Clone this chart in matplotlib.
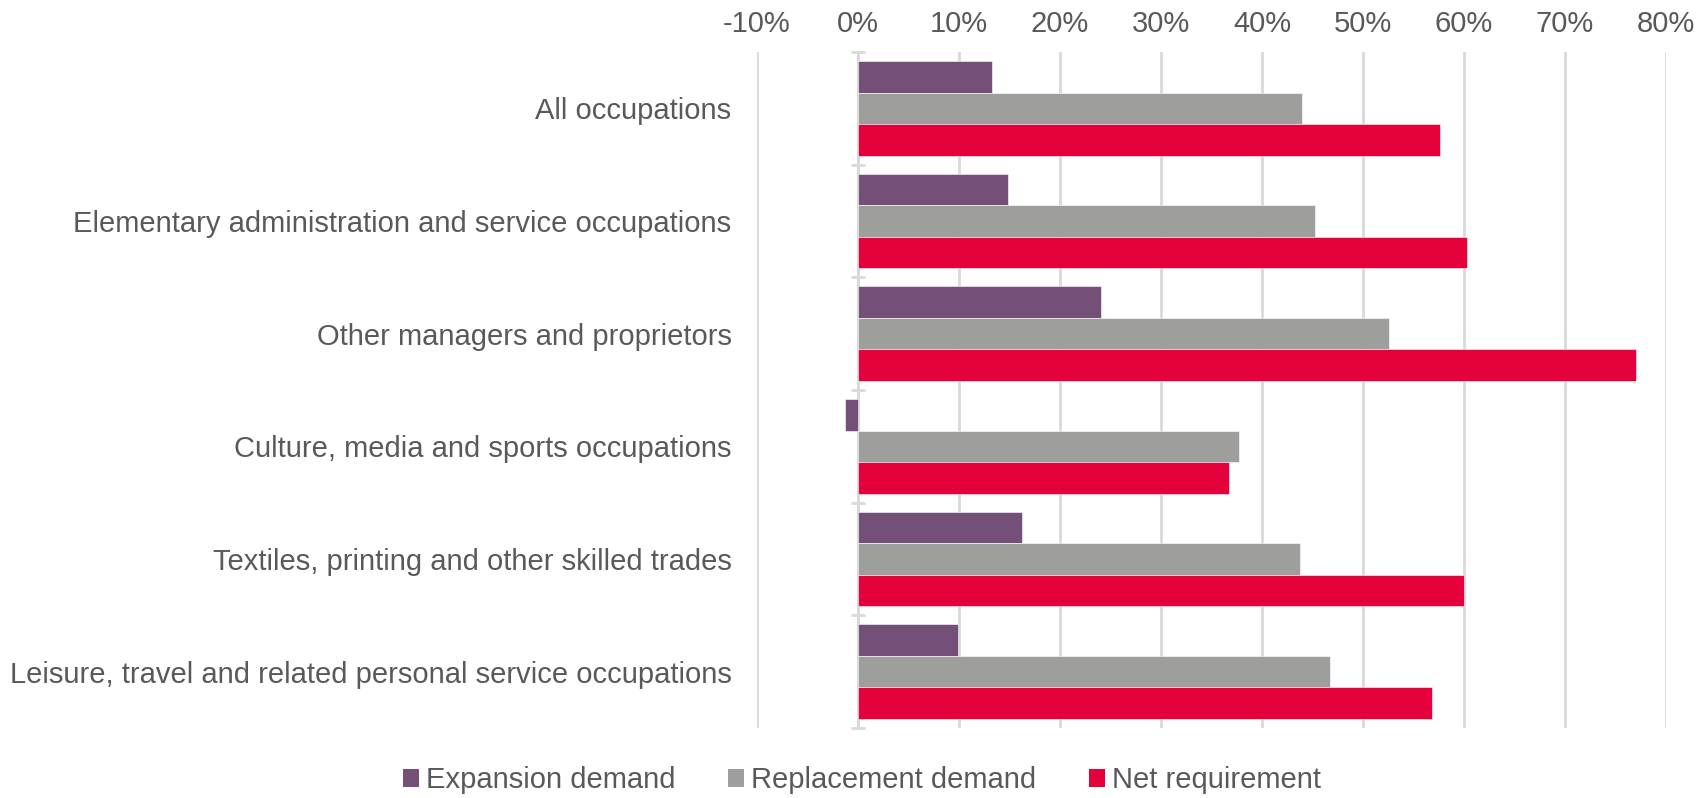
import numpy as np
import matplotlib.pyplot as plt
from matplotlib.patches import Patch
from matplotlib.ticker import FixedLocator, PercentFormatter

# ==========================
# DATA
# ==========================

occupations = [
    "All occupations",
    "Elementary administration and service occupations",
    "Other managers and proprietors",
    "Culture, media and sports occupations",
    "Textiles, printing and other skilled trades",
    "Leisure, travel and related personal service occupations",
]

expansion = [13.3, 14.9, 24.1, -1.3, 16.2, 9.9]
replacement = [44.0, 45.2, 52.6, 37.7, 43.8, 46.7]
net_requirement = [57.6, 60.3, 77.0, 36.7, 60.0, 56.8]

series_names = ["Expansion demand", "Replacement demand", "Net requirement"]
series_colors = ["#745078", "#9e9e9c", "#e4003b"]

# ==========================
# STYLE
# ==========================

plt.rcParams["font.family"] = ["Liberation Sans", "DejaVu Sans"]
plt.rcParams["axes.unicode_minus"] = False
text_color = "#595959"
grid_color = "#d9d9d9"
font_size = 21

fig = plt.figure(figsize=(16.98, 7.98), dpi=100)
ax = fig.add_axes([0.4458, 0.0877, 0.5354, 0.8471])

# ==========================
# BARS
# ==========================

y = np.arange(len(occupations))
bar_h = 0.28

for i, (vals, color) in enumerate(zip([expansion, replacement, net_requirement], series_colors)):
    ax.barh(y + (i - 1) * bar_h, vals, height=bar_h, color=color,
            edgecolor="white", linewidth=0.4, zorder=3)

# ==========================
# AXES
# ==========================

ax.set_xlim(-10, 80)
ax.set_ylim(len(occupations) - 0.5, -0.5)

ax.set_xticks(np.arange(-10, 81, 10))
ax.xaxis.set_major_formatter(PercentFormatter(decimals=0))
ax.xaxis.tick_top()
ax.tick_params(axis="x", length=0, pad=10, labelsize=font_size, labelcolor=text_color)
ax.grid(axis="x", color=grid_color, linewidth=2, zorder=0)

# category axis sits at zero, boundary ticks cross it
ax.spines["left"].set_position(("data", 0))
ax.spines["left"].set_color(grid_color)
ax.spines["left"].set_linewidth(2)
for side in ["top", "right", "bottom"]:
    ax.spines[side].set_visible(False)

ax.set_yticks(y)
ax.set_yticklabels(occupations)
ax.yaxis.set_minor_locator(FixedLocator(np.arange(-0.5, len(occupations), 1)))
ax.tick_params(axis="y", which="major", length=0, pad=91, labelsize=font_size,
               labelcolor=text_color)
ax.tick_params(axis="y", which="minor", length=10, width=2, color=grid_color,
               direction="inout")

# ==========================
# LEGEND
# ==========================

handles = [Patch(facecolor=c, edgecolor="none") for c in series_colors]
fig.legend(handles, series_names, loc="center", bbox_to_anchor=(0.5077, 0.022),
           ncol=3, frameon=False, fontsize=font_size, labelcolor=text_color,
           handlelength=0.55, handleheight=0.6, handletextpad=0.25,
           columnspacing=1.8)

fig.savefig("out.png", dpi=100)
